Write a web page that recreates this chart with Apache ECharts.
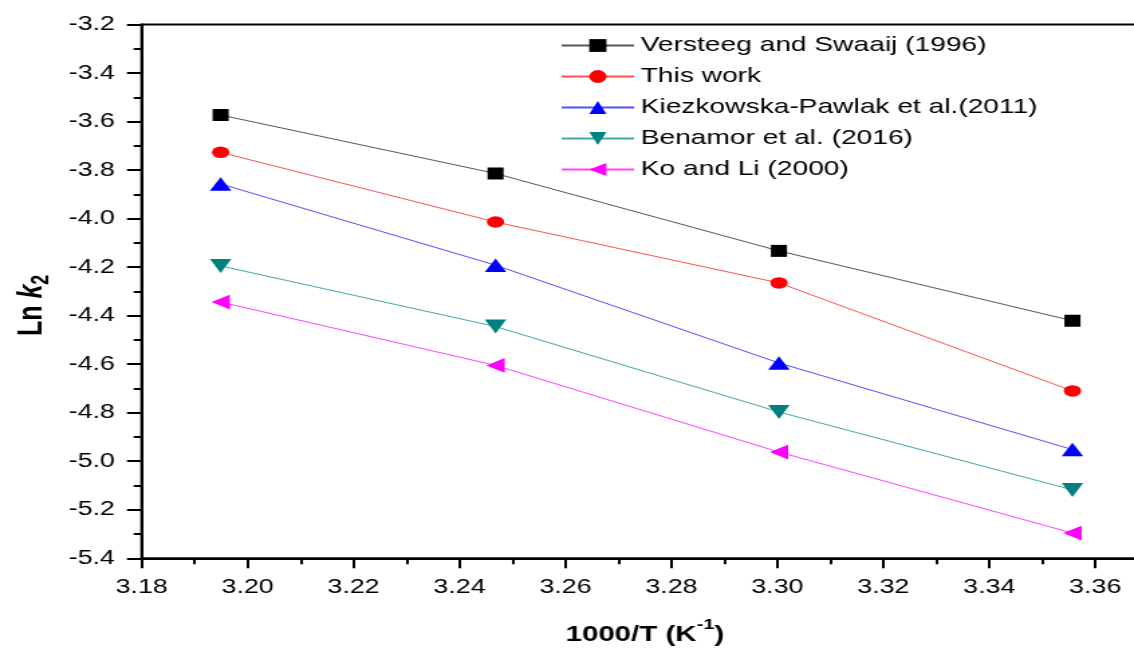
<!DOCTYPE html>
<html>
<head>
<meta charset="utf-8">
<script src="https://cdn.jsdelivr.net/npm/echarts@6/dist/echarts.min.js"></script>
<style>
  html, body { margin: 0; padding: 0; background: #ffffff; overflow: hidden; }
  #wrap { width: 1134px; height: 650px; overflow: hidden; }
  /* the plot is laid out on a narrower canvas and widened horizontally */
  #chart { width: 846px; height: 650px; transform: scaleX(1.3404); transform-origin: 0 0; }
</style>
</head>
<body>
<div id="wrap"><div id="chart"></div></div>
<script>
// 1000/T (K^-1) for 313, 308, 303 and 298 K
const invTemp = [3.1949, 3.2468, 3.3003, 3.3557];

// Ln k2 for each source
const versteeg = [-3.573, -3.814, -4.133, -4.421];
const thisWork = [-3.727, -4.014, -4.265, -4.710];
const kiezkowska = [-3.857, -4.192, -4.595, -4.952];
const benamor = [-4.195, -4.445, -4.797, -5.118];
const koLi = [-4.344, -4.605, -4.962, -5.296];

const seriesNames = [
  'Versteeg and Swaaij (1996)',
  'This work',
  'Kiezkowska-Pawlak et al.(2011)',
  'Benamor et al. (2016)',
  'Ko and Li (2000)'
];

const FONT = '"Liberation Sans", Arial, sans-serif';

function pairs(ys) {
  return ys.map((y, i) => [invTemp[i], y]);
}

function lineSeries(name, ys, color, lineColor, symbol, size, rotate) {
  return {
    name: name,
    type: 'line',
    data: pairs(ys),
    symbol: symbol,
    symbolSize: size,
    symbolRotate: rotate || 0,
    showSymbol: true,
    itemStyle: { color: color, opacity: 1 },
    lineStyle: { color: lineColor, width: 1 },
    emphasis: { disabled: true },
    z: 3
  };
}

const chart = echarts.init(document.getElementById('chart'), null, { renderer: 'canvas' });

chart.setOption({
  animation: false,
  backgroundColor: '#ffffff',
  textStyle: { fontFamily: FONT },
  grid: {
    left: 105.7,
    right: -10.6,
    top: 24.5,
    bottom: 91.7,
    containLabel: false,
    outerBoundsMode: 'none',
    show: true,
    borderColor: '#000000',
    borderWidth: 2,
    backgroundColor: 'transparent'
  },
  legend: {
    orient: 'vertical',
    left: 413,
    top: 30,
    itemWidth: 54,
    itemHeight: 16,
    itemGap: 10,
    textStyle: { fontFamily: FONT, fontSize: 21, color: '#000000' },
    data: seriesNames
  },
  xAxis: {
    type: 'value',
    min: 3.18,
    max: 3.37,
    interval: 0.02,
    name: '1000/T (K{s|-1})',
    nameLocation: 'middle',
    nameGap: 59,
    nameTextStyle: {
      fontFamily: FONT, fontSize: 22, fontWeight: 'bold', color: '#000000', lineHeight: 36,
      rich: {
        s: { fontFamily: FONT, fontSize: 15, fontWeight: 'bold', color: '#000000', verticalAlign: 'top', lineHeight: 15 }
      }
    },
    axisLine: { show: true, onZero: false, lineStyle: { color: '#000000', width: 2 } },
    axisTick: { show: true, inside: false, length: 10, lineStyle: { color: '#000000', width: 2 } },
    minorTick: { show: true, splitNumber: 2, length: 6, lineStyle: { color: '#000000', width: 2 } },
    axisLabel: {
      show: true, margin: 19, fontFamily: FONT, fontSize: 20, color: '#000000',
      showMaxLabel: false,
      formatter: v => v.toFixed(2)
    },
    splitLine: { show: false }
  },
  yAxis: {
    type: 'value',
    min: -5.4,
    max: -3.2,
    interval: 0.2,
    name: '{a|Ln }{b|k}{c|2}',
    nameLocation: 'middle',
    nameGap: 60,
    nameRotate: 90,
    nameTextStyle: {
      fontFamily: FONT, fontWeight: 'bold', color: '#000000',
      padding: [0, 28, 0, 0],
      rich: {
        a: { fontFamily: FONT, fontSize: 25, fontWeight: 'bold', color: '#000000', lineHeight: 32 },
        b: { fontFamily: FONT, fontSize: 25, fontWeight: 'bold', fontStyle: 'italic', color: '#000000', lineHeight: 32 },
        c: { fontFamily: FONT, fontSize: 18, fontWeight: 'bold', color: '#000000', verticalAlign: 'bottom', lineHeight: 18 }
      }
    },
    axisLine: { show: true, onZero: false, lineStyle: { color: '#000000', width: 2 } },
    axisTick: { show: true, inside: false, length: 11, lineStyle: { color: '#000000', width: 2 } },
    minorTick: { show: true, splitNumber: 2, length: 6, lineStyle: { color: '#000000', width: 2 } },
    axisLabel: {
      show: true, margin: 20, fontFamily: FONT, fontSize: 20, color: '#000000',
      formatter: v => v.toFixed(1)
    },
    splitLine: { show: false }
  },
  series: [
    lineSeries(seriesNames[0], versteeg, '#000000', '#555555', 'rect', 12, 0),
    lineSeries(seriesNames[1], thisWork, '#ff0000', '#ff5050', 'circle', [13, 11.5], 0),
    lineSeries(seriesNames[2], kiezkowska, '#0000ff', '#5050ff', 'triangle', [16, 13.5], 0),
    lineSeries(seriesNames[3], benamor, '#008080', '#40a8a8', 'triangle', [16, 14], 180),
    lineSeries(seriesNames[4], koLi, '#ff00ff', '#ff40ff', 'triangle', [14.7, 13.7], 90)
  ]
});
</script>
</body>
</html>
